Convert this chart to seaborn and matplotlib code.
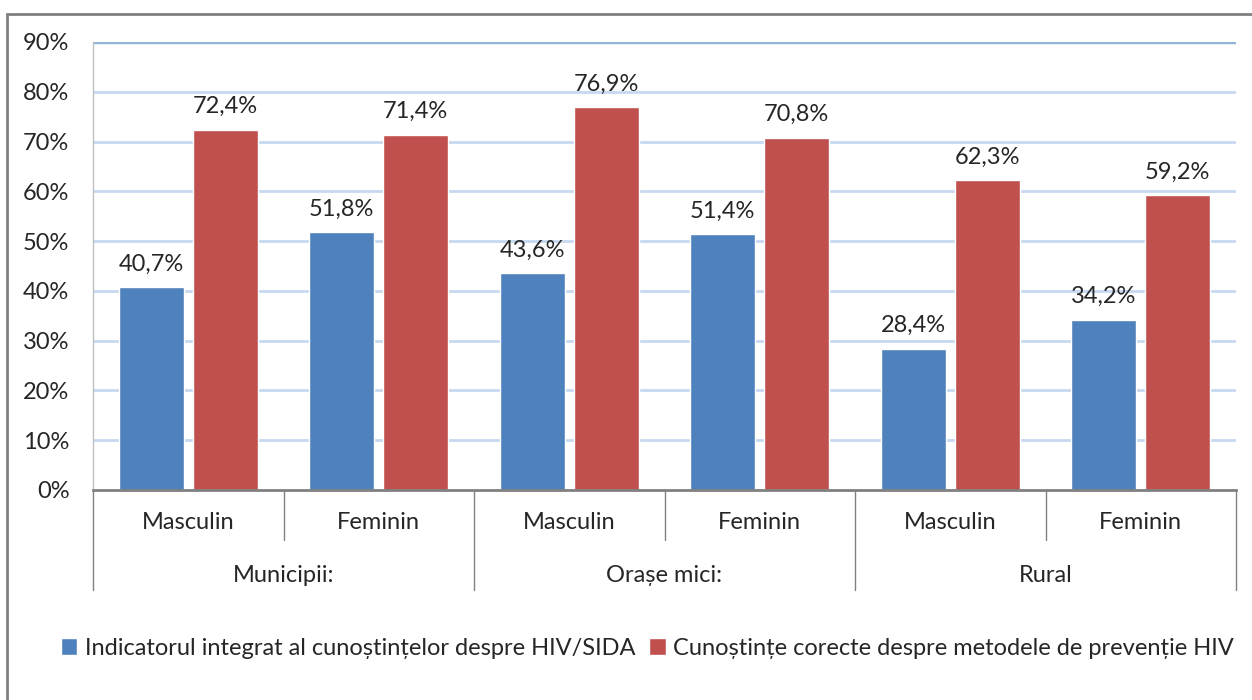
import matplotlib
matplotlib.use("Agg")
import matplotlib.pyplot as plt
import matplotlib.transforms as mtransforms
from matplotlib.lines import Line2D
from matplotlib.patches import Patch
import seaborn as sns
import pandas as pd

# data
areas = ["Municipii:", "Orașe mici:", "Rural"]
sexes = ["Masculin", "Feminin"]
series = ["Indicatorul integrat al cunoștințelor despre HIV/SIDA",
          "Cunoștințe corecte despre metodele de prevenție HIV"]
integrat = [40.7, 51.8, 43.6, 51.4, 28.4, 34.2]
preventie = [72.4, 71.4, 76.9, 70.8, 62.3, 59.2]
colors = ["#4f81bd", "#c0504d"]

combos = [a + "|" + s for a in areas for s in sexes]
df = pd.DataFrame({
    "grup": combos * 2,
    "serie": [series[0]] * 6 + [series[1]] * 6,
    "val": [v / 100 for v in integrat] + [v / 100 for v in preventie],
})

sns.set_style("white")
plt.rcParams["font.family"] = ["Lato", "DejaVu Sans"]
FS = 17

fig = plt.figure(figsize=(12.52, 7), dpi=100)
ax = fig.add_axes([93 / 1252, 1 - 490 / 700, (1236 - 93) / 1252, 448 / 700])

sns.barplot(data=df, x="grup", y="val", hue="serie", order=combos,
            hue_order=series, palette=colors, width=0.776, gap=0.12,
            saturation=1, ax=ax, legend=False)

ax.set_ylim(0, 0.9)
ax.set_xlim(-0.5, 5.5)
ax.set_yticks([i / 10 for i in range(10)])
ax.set_yticklabels([f"{i * 10}%" for i in range(10)], fontsize=FS)
ax.tick_params(axis="y", length=5, color="#808080", pad=12)
ax.set_xticks([])
ax.set_xlabel("")
ax.set_ylabel("")

# gridlines
for i in range(1, 9):
    ax.axhline(i / 10, color="#c6d9f1", lw=2, zorder=0)
ax.axhline(0.9, color="#95b3d7", lw=2.5, zorder=0)

for s in ["top", "right"]:
    ax.spines[s].set_visible(False)
ax.spines["left"].set_color("#bfbfbf")
ax.spines["left"].set_linewidth(1)
ax.spines["bottom"].set_color("#808080")
ax.spines["bottom"].set_linewidth(2)

# value labels
for cont in ax.containers:
    ax.bar_label(cont, labels=[f"{v * 100:.1f}%".replace(".", ",") for v in cont.datavalues],
                 padding=9, fontsize=FS)

# two-level category axis
trans = mtransforms.blended_transform_factory(ax.transData, ax.transAxes)
for k in range(7):
    x = k - 0.5
    low = -0.223 if k % 2 == 0 else -0.112
    ax.plot([x, x], [0, low], color="#808080", lw=1, transform=trans, clip_on=False)
for i, c in enumerate(combos):
    ax.text(i, -0.072, c.split("|")[1], ha="center", va="center", fontsize=FS,
            transform=trans)
for j, a in enumerate(areas):
    ax.text(2 * j + 0.5, -0.19, a, ha="center", va="center", fontsize=FS,
            transform=trans)

# legend
handles = [Patch(facecolor=colors[0]), Patch(facecolor=colors[1])]
fig.legend(handles, series, loc="center", bbox_to_anchor=(0.517, 0.074), ncol=2,
           frameon=False, fontsize=FS, handlelength=0.7, handleheight=0.7,
           handletextpad=0.3, columnspacing=0.6)

# chart border (top and left only)
fig.add_artist(Line2D([7 / 1252, 1], [1 - 14 / 700, 1 - 14 / 700], color="#808080", lw=2))
fig.add_artist(Line2D([7 / 1252, 7 / 1252], [0, 1 - 14 / 700], color="#808080", lw=2))

fig.savefig("out.png", dpi=100, facecolor="white")
